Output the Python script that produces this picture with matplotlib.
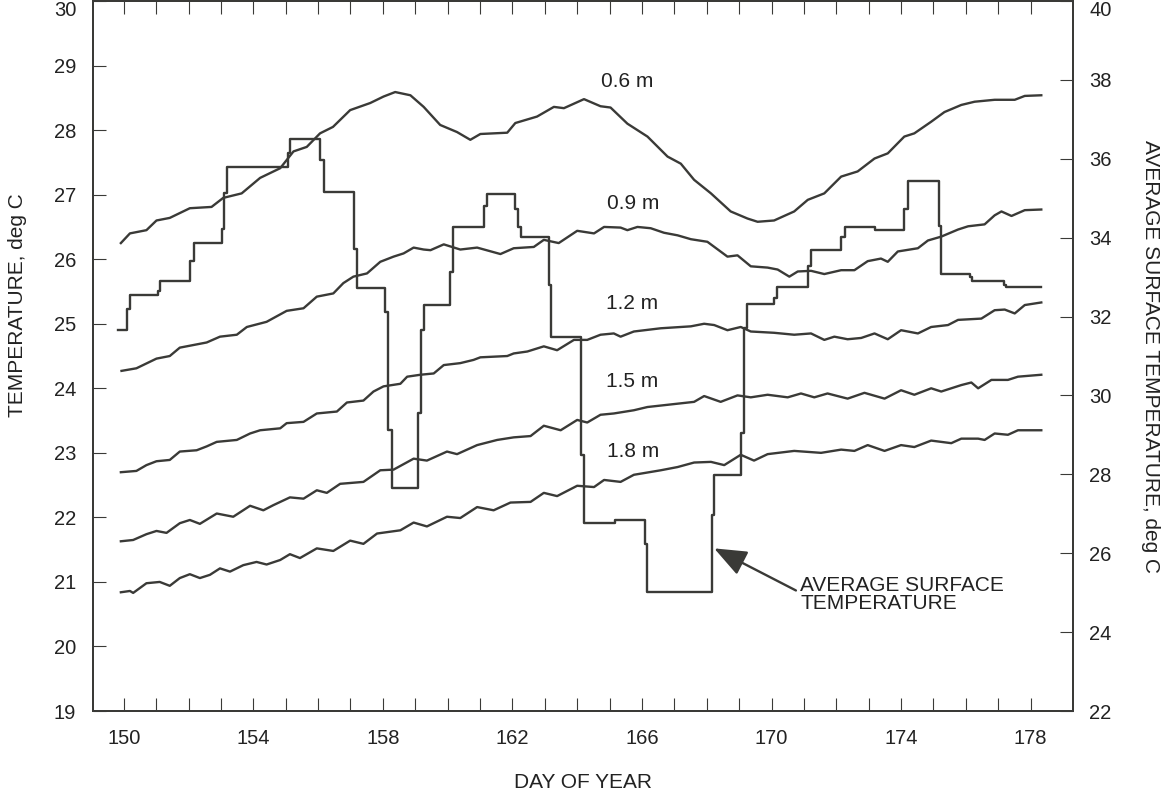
import matplotlib
matplotlib.use("Agg")
import matplotlib.pyplot as plt
import numpy as np

plt.rcParams['font.family'] = ['Liberation Sans', 'DejaVu Sans']

INK = '#3a3a37'
TXT = '#222222'

# soil temperature at depth (left axis, deg C)
day_06 = [149.91, 150.19, 150.70, 151.01, 151.42, 152.04, 152.71, 153.07, 153.64, 154.21,
          154.83, 155.24, 155.65, 156.06, 156.46, 156.99, 157.61, 158.02, 158.38, 158.85,
          159.26, 159.77, 160.29, 160.70, 161.01, 161.84, 162.09, 162.76, 163.28, 163.59,
          164.21, 164.72, 165.03, 165.55, 166.17, 166.79, 167.20, 167.61, 168.13, 168.74,
          169.26, 169.57, 170.08, 170.70, 171.12, 171.63, 172.15, 172.66, 173.18, 173.59,
          174.10, 174.41, 174.93, 175.34, 175.86, 176.27, 176.89, 177.51, 177.82, 178.33]
temp_06 = [26.25, 26.40, 26.45, 26.60, 26.64, 26.79, 26.81, 26.95, 27.02, 27.26,
           27.41, 27.67, 27.74, 27.95, 28.05, 28.31, 28.42, 28.52, 28.59, 28.54,
           28.36, 28.08, 27.97, 27.85, 27.94, 27.96, 28.11, 28.21, 28.36, 28.34,
           28.48, 28.37, 28.35, 28.10, 27.90, 27.59, 27.48, 27.23, 27.02, 26.74,
           26.63, 26.58, 26.60, 26.74, 26.92, 27.02, 27.28, 27.36, 27.56, 27.64,
           27.90, 27.95, 28.13, 28.28, 28.39, 28.44, 28.47, 28.47, 28.53, 28.54]

day_09 = [149.93, 150.39, 151.01, 151.42, 151.73, 152.56, 152.97, 153.49, 153.80, 154.41,
          155.03, 155.55, 155.96, 156.47, 156.78, 157.09, 157.51, 157.92, 158.33, 158.64,
          158.95, 159.26, 159.47, 159.88, 160.39, 160.91, 161.63, 162.04, 162.66, 162.97,
          163.43, 164.00, 164.52, 164.83, 165.34, 165.55, 165.86, 166.27, 166.68, 167.10,
          167.51, 168.02, 168.64, 168.95, 169.36, 169.88, 170.19, 170.55, 170.81, 171.22,
          171.63, 172.15, 172.56, 172.97, 173.38, 173.59, 173.90, 174.52, 174.83, 175.24,
          175.76, 176.07, 176.58, 176.89, 177.10, 177.41, 177.82, 178.33]
temp_09 = [24.27, 24.31, 24.46, 24.50, 24.63, 24.71, 24.80, 24.83, 24.95, 25.03,
           25.20, 25.24, 25.42, 25.47, 25.63, 25.73, 25.78, 25.96, 26.04, 26.09,
           26.18, 26.15, 26.14, 26.23, 26.15, 26.18, 26.08, 26.17, 26.19, 26.30,
           26.25, 26.44, 26.40, 26.50, 26.49, 26.45, 26.50, 26.48, 26.41, 26.37,
           26.31, 26.27, 26.04, 26.06, 25.89, 25.87, 25.84, 25.73, 25.81, 25.82,
           25.77, 25.83, 25.83, 25.97, 26.01, 25.96, 26.12, 26.17, 26.29, 26.35,
           26.46, 26.51, 26.54, 26.68, 26.74, 26.67, 26.76, 26.77]

day_12 = [149.91, 150.39, 150.70, 151.01, 151.42, 151.73, 152.25, 152.56, 152.87, 153.49,
          153.90, 154.21, 154.83, 155.03, 155.55, 155.96, 156.58, 156.89, 157.40, 157.71,
          158.02, 158.54, 158.75, 159.16, 159.57, 159.88, 160.39, 160.80, 161.01, 161.84,
          162.04, 162.46, 162.97, 163.38, 163.90, 164.31, 164.72, 165.13, 165.34, 165.75,
          166.58, 167.51, 167.92, 168.23, 168.64, 169.05, 169.36, 170.08, 170.70, 171.22,
          171.63, 171.94, 172.35, 172.77, 173.18, 173.59, 174.00, 174.52, 174.93, 175.45,
          175.76, 176.48, 176.89, 177.20, 177.51, 177.82, 178.33]
temp_12 = [22.70, 22.72, 22.81, 22.87, 22.89, 23.02, 23.04, 23.10, 23.17, 23.20,
           23.30, 23.35, 23.38, 23.46, 23.48, 23.61, 23.64, 23.78, 23.81, 23.95,
           24.03, 24.07, 24.18, 24.21, 24.23, 24.36, 24.39, 24.44, 24.48, 24.50,
           24.54, 24.57, 24.65, 24.59, 24.75, 24.75, 24.83, 24.85, 24.80, 24.88,
           24.93, 24.96, 25.00, 24.98, 24.90, 24.95, 24.88, 24.86, 24.83, 24.85,
           24.75, 24.80, 24.76, 24.78, 24.85, 24.76, 24.90, 24.85, 24.95, 24.98,
           25.06, 25.08, 25.21, 25.22, 25.16, 25.29, 25.33]

day_15 = [149.91, 150.29, 150.70, 151.01, 151.32, 151.73, 152.04, 152.35, 152.87, 153.38,
          153.90, 154.31, 154.62, 155.13, 155.55, 155.96, 156.27, 156.68, 157.40, 157.92,
          158.33, 158.95, 159.36, 159.98, 160.29, 160.91, 161.53, 162.04, 162.56, 162.97,
          163.49, 164.00, 164.31, 164.72, 165.13, 165.75, 166.17, 167.61, 167.92, 168.43,
          168.95, 169.36, 169.88, 170.50, 170.91, 171.32, 171.73, 172.35, 172.87, 173.49,
          174.00, 174.41, 174.93, 175.24, 175.86, 176.17, 176.38, 176.79, 177.30, 177.61,
          178.33]
temp_15 = [21.63, 21.65, 21.74, 21.79, 21.76, 21.91, 21.96, 21.90, 22.06, 22.01,
           22.18, 22.11, 22.19, 22.31, 22.29, 22.42, 22.38, 22.52, 22.55, 22.73,
           22.74, 22.91, 22.88, 23.02, 22.98, 23.12, 23.20, 23.24, 23.26, 23.42,
           23.35, 23.51, 23.47, 23.59, 23.61, 23.66, 23.71, 23.79, 23.88, 23.79,
           23.89, 23.86, 23.90, 23.86, 23.92, 23.86, 23.92, 23.84, 23.93, 23.84,
           23.97, 23.90, 24.00, 23.95, 24.05, 24.09, 24.00, 24.13, 24.13, 24.18,
           24.21]

day_18 = [149.91, 150.19, 150.29, 150.70, 151.11, 151.42, 151.73, 152.04, 152.35, 152.66,
          152.97, 153.28, 153.69, 154.10, 154.41, 154.83, 155.13, 155.44, 155.96, 156.47,
          156.99, 157.40, 157.82, 158.54, 158.95, 159.36, 159.98, 160.39, 160.91, 161.42,
          161.94, 162.56, 162.97, 163.38, 164.00, 164.52, 164.83, 165.34, 165.75, 166.58,
          167.10, 167.61, 168.13, 168.54, 169.05, 169.46, 169.88, 170.70, 171.53, 172.15,
          172.56, 172.97, 173.49, 174.00, 174.41, 174.93, 175.55, 175.86, 176.38, 176.58,
          176.89, 177.30, 177.61, 178.33]
temp_18 = [20.84, 20.86, 20.83, 20.98, 21.00, 20.94, 21.06, 21.12, 21.06, 21.11,
           21.21, 21.16, 21.26, 21.31, 21.27, 21.34, 21.43, 21.37, 21.52, 21.48,
           21.64, 21.59, 21.75, 21.80, 21.92, 21.86, 22.01, 21.99, 22.16, 22.11,
           22.23, 22.24, 22.38, 22.33, 22.49, 22.47, 22.58, 22.55, 22.66, 22.73,
           22.78, 22.85, 22.86, 22.81, 22.97, 22.88, 22.98, 23.03, 23.00, 23.05,
           23.03, 23.12, 23.03, 23.12, 23.09, 23.19, 23.15, 23.22, 23.22, 23.20,
           23.30, 23.28, 23.35, 23.35]

depth_labels = ['0.6 m', '0.9 m', '1.2 m', '1.5 m', '1.8 m']
label_day = [165.53, 165.73, 165.70, 165.71, 165.73]
label_temp = [28.75, 26.86, 25.32, 24.10, 23.02]

# average surface temperature (right axis), value holds from each time to the next
surf_day = [149.82, 150.10, 150.19, 151.06, 151.13, 152.06, 152.17, 153.02, 153.09, 153.18,
            155.08, 155.12, 156.06, 156.19, 157.12, 157.20, 158.06, 158.15, 158.28, 159.10,
            159.19, 159.26, 160.08, 160.18, 161.11, 161.20, 162.07, 162.17, 162.25, 163.13,
            163.18, 164.13, 164.21, 165.16, 166.08, 166.15, 168.15, 168.21, 169.07, 169.16,
            169.25, 170.08, 170.18, 171.12, 171.22, 172.15, 172.26, 173.18, 174.10, 174.21,
            175.16, 175.24, 176.12, 176.19, 177.18, 177.25, 178.33]
surf_temp = [31.66, 32.19, 32.55, 32.65, 32.90, 33.41, 33.86, 34.21, 35.13, 35.80,
             36.14, 36.49, 35.97, 35.15, 33.71, 32.72, 32.11, 29.12, 27.65, 29.55,
             31.66, 32.29, 33.14, 34.28, 34.80, 35.10, 34.74, 34.28, 34.03, 32.80,
             31.47, 28.49, 26.76, 26.84, 26.23, 25.01, 26.97, 27.98, 29.04, 31.70,
             32.32, 32.46, 32.74, 33.27, 33.69, 34.03, 34.28, 34.20, 34.74, 35.44,
             34.30, 33.08, 33.00, 32.89, 32.80, 32.74, 32.74]

FS = 15
TFS = 14.5

fig = plt.figure(figsize=(11.67, 7.94), dpi=100)
ax = fig.add_axes([0.0797, 0.1045, 0.8395, 0.8942])
ax2 = ax.twinx()

series = [(day_06, temp_06), (day_09, temp_09), (day_12, temp_12),
          (day_15, temp_15), (day_18, temp_18)]
for (d, t), lab, lx, ly in zip(series, depth_labels, label_day, label_temp):
    ax.plot(d, t, color=INK, lw=1.7, solid_joinstyle='round')
    ax.text(lx, ly, lab, ha='center', va='center', fontsize=FS, color=TXT)

ax2.plot(surf_day, surf_temp, color=INK, lw=1.7, drawstyle='steps-post')

ax.set_xlim(149.05, 179.3)
ax.set_ylim(19, 30)
ax2.set_ylim(22, 40)

days = np.arange(150, 179)
ax.set_xticks(days)
ax.set_xticklabels([str(d) if (d - 150) % 4 == 0 else '' for d in days])
ax.set_yticks(np.arange(19, 31))
ax2.set_yticks(np.arange(22, 41, 2))

ax.tick_params(axis='x', direction='in', length=9.5, width=0.8, color=INK,
               top=True, pad=13, labelsize=TFS, labelcolor=TXT)
ax.tick_params(axis='y', direction='in', length=9.5, width=0.8, color=INK,
               pad=12, labelsize=TFS, labelcolor=TXT)
ax2.tick_params(axis='y', direction='in', length=9.5, width=0.8, color=INK,
                pad=12, labelsize=TFS, labelcolor=TXT)

# keep the top tick labels inside the figure, as in the original
fig.canvas.draw()
ax.get_yticklabels()[-1].set_verticalalignment('top')
ax2.get_yticklabels()[-1].set_verticalalignment('top')

for a in (ax, ax2):
    for s in a.spines.values():
        s.set_linewidth(1.4)
        s.set_color(INK)

ax.set_xlabel('DAY OF YEAR', fontsize=FS, color=TXT, labelpad=18)
ax.set_ylabel('TEMPERATURE, deg C', fontsize=FS, color=TXT)
ax.yaxis.set_label_coords(-0.067, 0.572)
ax2.set_ylabel('AVERAGE SURFACE TEMPERATURE, deg C', fontsize=FS, color=TXT,
               rotation=270, va='center')
ax2.yaxis.set_label_coords(1.079, 0.5)

ax.annotate('AVERAGE SURFACE\nTEMPERATURE', xy=(168.23, 21.52), xytext=(170.88, 20.81),
            ha='left', va='center', fontsize=FS, color=TXT, linespacing=0.95,
            arrowprops=dict(arrowstyle='-|>,head_length=1.0,head_width=0.4',
                            color=INK, lw=1.7, mutation_scale=20,
                            shrinkA=0, shrinkB=0,
                            relpos=(-0.02, 0.6)))

fig.savefig('out.png', dpi=100)
